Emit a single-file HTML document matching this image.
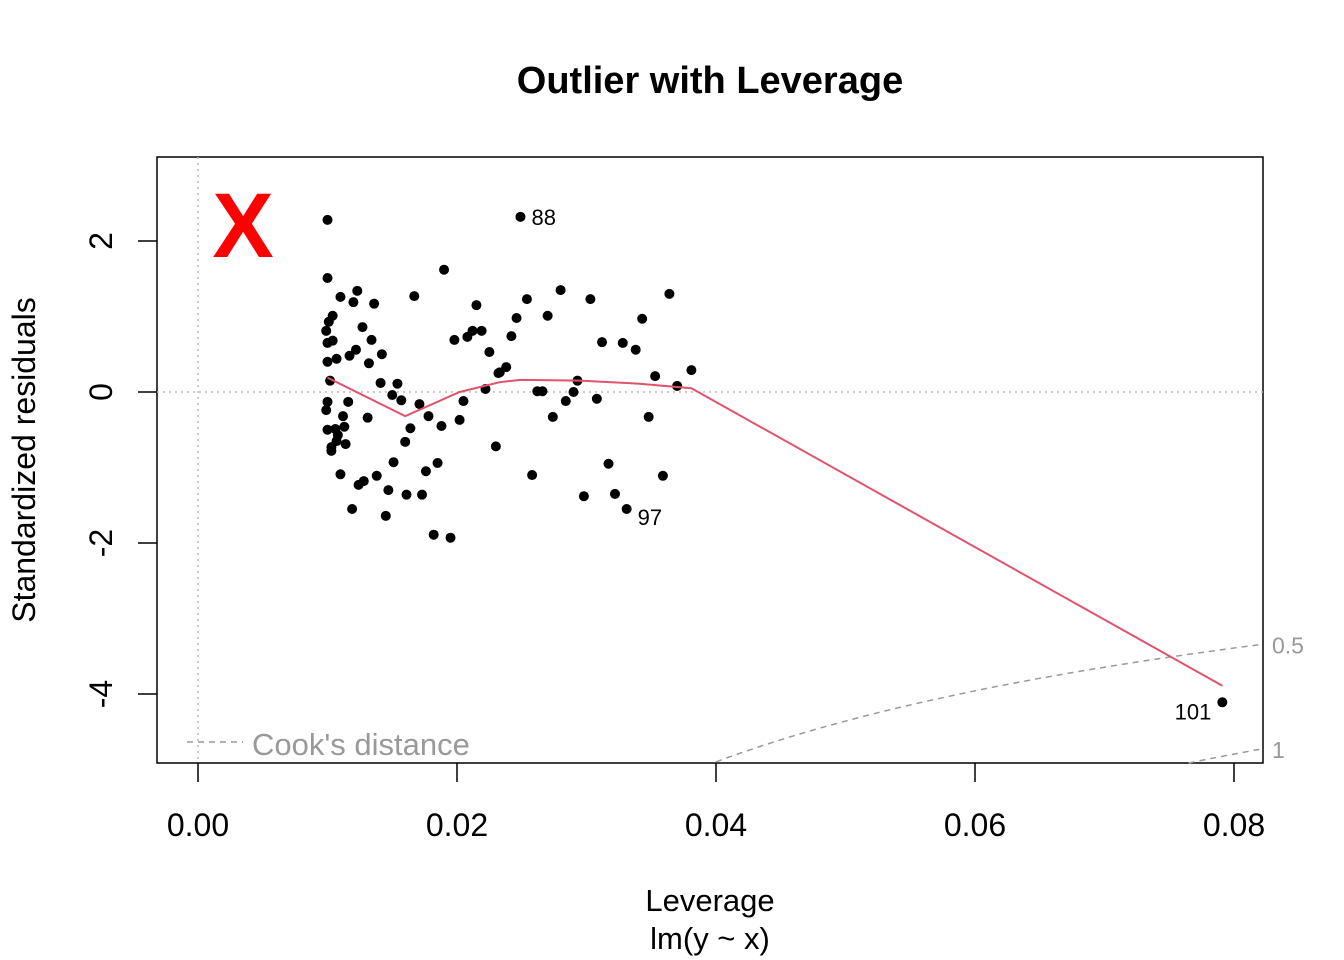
<!DOCTYPE html>
<html><head><meta charset="utf-8"><style>
html,body{margin:0;padding:0;background:#fff;}
svg{display:block;font-family:"Liberation Sans",Arial,sans-serif;}
</style></head><body>
<svg id="chart" width="1344" height="960" viewBox="0 0 1344 960" xmlns="http://www.w3.org/2000/svg">
<text x="710" y="93" text-anchor="middle" font-size="38" font-weight="bold">Outlier with Leverage</text>
<rect x="157" y="157" width="1106" height="606" fill="none" stroke="#000" stroke-width="1.5"/>
<g id="marks"></g>
<text x="243" y="257" text-anchor="middle" font-size="92" font-weight="bold" fill="#ff0000">X</text>
<line x1="187" y1="742" x2="243" y2="742" stroke="#999" stroke-width="1.5" stroke-dasharray="6,5"/>
<text x="252" y="755" font-size="31" fill="#999">Cook's distance</text>
<text x="710" y="911" text-anchor="middle" font-size="31">Leverage</text>
<text x="710" y="949" text-anchor="middle" font-size="31">lm(y ~ x)</text>
<text transform="translate(35,460) rotate(-90)" text-anchor="middle" font-size="32">Standardized residuals</text>
</svg>
<script>
const lev=[0.0100,0.0100,0.0190,0.0110,0.0123,0.0120,0.0136,0.0167,0.0215,0.0104,0.0101,0.0099,0.0127,0.0212,0.0219,0.0208,0.0198,0.0134,0.0100,0.0104,0.0122,0.0117,0.0142,0.0107,0.0100,0.0132,0.0225,0.0102,0.0141,0.0154,0.0150,0.0157,0.0232,0.0222,0.0100,0.0099,0.0116,0.0171,0.0205,0.0112,0.0131,0.0178,0.0202,0.0100,0.0106,0.0113,0.0108,0.0164,0.0188,0.0107,0.0114,0.0103,0.0103,0.0160,0.0230,0.0151,0.0185,0.0176,0.0110,0.0138,0.0128,0.0124,0.0147,0.0161,0.0173,0.0119,0.0145,0.0182,0.0195,0.0249,0.0280,0.0254,0.0303,0.0364,0.0270,0.0246,0.0343,0.0242,0.0312,0.0328,0.0338,0.0238,0.0233,0.0353,0.0381,0.0293,0.0370,0.0262,0.0266,0.0290,0.0284,0.0308,0.0274,0.0348,0.0317,0.0359,0.0258,0.0298,0.0322,0.0331,0.0791];
const res=[2.28,1.51,1.62,1.26,1.34,1.19,1.17,1.27,1.15,1.01,0.93,0.81,0.86,0.81,0.81,0.73,0.69,0.69,0.65,0.68,0.56,0.48,0.50,0.44,0.40,0.38,0.53,0.15,0.12,0.11,-0.04,-0.11,0.25,0.04,-0.13,-0.24,-0.13,-0.16,-0.12,-0.32,-0.34,-0.32,-0.37,-0.50,-0.49,-0.46,-0.57,-0.48,-0.45,-0.65,-0.69,-0.73,-0.78,-0.66,-0.72,-0.93,-0.94,-1.05,-1.09,-1.11,-1.18,-1.23,-1.30,-1.36,-1.36,-1.55,-1.64,-1.89,-1.93,2.32,1.35,1.23,1.23,1.30,1.01,0.98,0.97,0.74,0.66,0.65,0.56,0.33,0.26,0.21,0.29,0.15,0.08,0.01,0.01,0.00,-0.12,-0.09,-0.33,-0.33,-0.95,-1.11,-1.10,-1.38,-1.35,-1.55,-4.11];
const labelIdx=[69,99,100];
const labelText=["88","97","101"];
const smoothX=[0.0100,0.0160,0.0202,0.0233,0.0249,0.0295,0.0341,0.0381,0.0791];
const smoothY=[0.19,-0.32,0.00,0.13,0.16,0.15,0.11,0.05,-3.89];
const xTicks=[0,0.02,0.04,0.06,0.08];
const xTickLabels=["0.00","0.02","0.04","0.06","0.08"];
const yTicks=[-4,-2,0,2];
const yTickLabels=["-4","-2","0","2"];
const cookLevels=[0.5,1];
const cookLabels=["0.5","1"];

const NS="http://www.w3.org/2000/svg";
const X=v=>198+v*12950;
const Y=v=>392-v*75.5;
const g=document.getElementById('marks');
function mk(t,a){const e=document.createElementNS(NS,t);for(const k in a)e.setAttribute(k,a[k]);g.appendChild(e);return e;}

let e=mk('line',{x1:157,x2:1263,y1:Y(0),y2:Y(0),stroke:'#bbb','stroke-width':1.5,'stroke-dasharray':'2,4'});


e=mk('line',{x1:X(0),x2:X(0),y1:157,y2:763,stroke:'#bbb','stroke-width':1.5,'stroke-dasharray':'2,4'});



xTicks.forEach((t,i)=>{
  let l=mk('line',{x1:X(t),x2:X(t),y1:763,y2:782,stroke:'#000','stroke-width':1.5});
  
  
  let tx=mk('text',{x:X(t),y:836,'text-anchor':'middle','font-size':32});
  tx.textContent=xTickLabels[i];
  
  
});
yTicks.forEach((t,i)=>{
  let l=mk('line',{x1:138,x2:157,y1:Y(t),y2:Y(t),stroke:'#000','stroke-width':1.5});
  
  
  let tx=mk('text',{transform:`translate(112,${Y(t)}) rotate(-90)`,'text-anchor':'middle','font-size':32});
  tx.textContent=yTickLabels[i];
  
  
});

cookLevels.forEach((D,i)=>{
  let pts=[];
  for(let h=0.03;h<=0.0822;h+=0.0005){
    const r=-Math.sqrt(D*2*(1-h)/h);
    if(Y(r)<=763) pts.push(X(h).toFixed(1)+','+Y(r).toFixed(1));
  }
  let p=mk('polyline',{points:pts.join(' '),fill:'none',stroke:'#999','stroke-width':1.5,'stroke-dasharray':'6,5'});
  
  
  const rEnd=-Math.sqrt(D*2*(1-0.0822)/0.0822);
  let tx=mk('text',{x:1272,y:Y(rEnd)+9,'font-size':23,fill:'#999'});
  tx.textContent=cookLabels[i];
  
  
});

lev.forEach((v,i)=>{
  let c=mk('circle',{cx:X(v),cy:Y(res[i]),r:5,fill:'#000'});
  
  
});

let sp=mk('polyline',{points:smoothX.map((v,i)=>X(v)+','+Y(smoothY[i])).join(' '),fill:'none',stroke:'#DF536B','stroke-width':2});



labelIdx.forEach((k,i)=>{
  const left=k===100;
  let tx=mk('text',{x:X(lev[k])+(left?-11:11),y:Y(res[k])+(left?17:16),'text-anchor':left?'end':'start','font-size':22});
  if(k===69){tx.setAttribute('y',Y(res[k])+8);}
  tx.textContent=labelText[i];
  
  
});
</script>
</body></html>
